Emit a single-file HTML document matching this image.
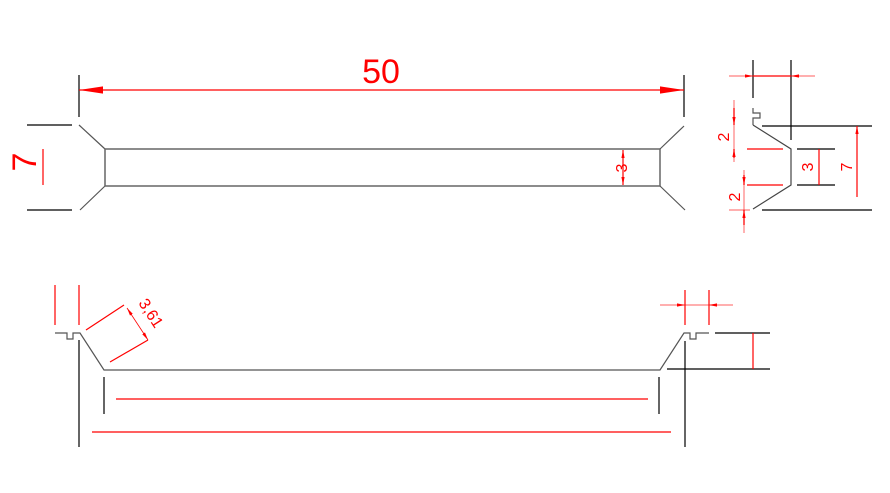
<!DOCTYPE html>
<html><head><meta charset="utf-8"><style>
html,body{margin:0;padding:0;background:#fff;width:890px;height:493px;overflow:hidden}
svg{display:block}
text{font-family:"Liberation Sans",sans-serif;fill:#f00}
</style></head><body>
<svg width="890" height="493" viewBox="0 0 890 493">
<defs>
<marker id="a" viewBox="0 0 10 10" refX="10" refY="5" markerWidth="8" markerHeight="8" orient="auto-start-reverse" markerUnits="userSpaceOnUse"><path d="M0,3 L10,5 L0,7 z" fill="#f00"/></marker>
<marker id="b" viewBox="0 0 10 10" refX="10" refY="5" markerWidth="24" markerHeight="24" orient="auto-start-reverse" markerUnits="userSpaceOnUse"><path d="M0,3.5 L10,5 L0,6.5 z" fill="#f00"/></marker>
</defs>
<g stroke="#000" stroke-width="1.2" fill="none">
<line x1="79" y1="75" x2="79" y2="117"/>
<line x1="684" y1="75" x2="684" y2="117"/>
<line x1="27" y1="125" x2="72" y2="125"/>
<line x1="27" y1="210" x2="72" y2="210"/>
<line x1="79" y1="125" x2="105" y2="149" stroke="#555"/>
<line x1="105" y1="186" x2="80" y2="210" stroke="#555"/>
<rect x="105" y="149" width="555" height="37" stroke="#666" stroke-width="1.5"/>
<line x1="660" y1="149" x2="684" y2="126" stroke="#555"/>
<line x1="660" y1="186" x2="685" y2="210" stroke="#555"/>
<line x1="753" y1="60" x2="753" y2="98"/>
<line x1="791" y1="60" x2="791" y2="140"/>
<polyline points="753,108 753,113 760,113 760,118 753,118 753,125" stroke="#555"/>
<polyline points="753,125 791,149 791,185 753,209" stroke="#444"/>
<line x1="762" y1="126" x2="872" y2="126"/>
<line x1="762" y1="210" x2="872" y2="210"/>
<line x1="797" y1="149" x2="835" y2="149"/>
<line x1="797" y1="185" x2="835" y2="185"/>
<polyline points="55,333 67,333 67,339 73,339 73,333 80,333 104,370 660,370 684,333 690,333 690,339 696,339 696,333 709,333" stroke="#555"/>
<line x1="79" y1="340" x2="79" y2="447"/>
<line x1="104" y1="377" x2="104" y2="414"/>
<line x1="659" y1="377" x2="659" y2="414"/>
<line x1="685" y1="341" x2="685" y2="447"/>
<line x1="715" y1="333" x2="770" y2="333"/>
<line x1="667" y1="369" x2="770" y2="369"/>
</g>
<g stroke="#f00" stroke-width="1.2" fill="none">
<line x1="79" y1="90" x2="684" y2="90" marker-start="url(#b)" marker-end="url(#b)"/>
<line x1="43" y1="149" x2="43" y2="185"/>
<line x1="623" y1="150" x2="623" y2="185" marker-start="url(#a)" marker-end="url(#a)"/>
<line x1="729" y1="76" x2="753" y2="76" marker-end="url(#a)" stroke-opacity=".5"/>
<line x1="753" y1="76" x2="791" y2="76"/>
<line x1="815" y1="76" x2="791" y2="76" marker-end="url(#a)" stroke-opacity=".5"/>
<line x1="747" y1="149" x2="783" y2="149"/>
<line x1="747" y1="185" x2="783" y2="185"/>
<line x1="819" y1="149" x2="819" y2="185"/>
<line x1="857" y1="197" x2="857" y2="126" marker-end="url(#a)"/>
<line x1="734" y1="100" x2="734" y2="162" stroke-opacity=".5"/>
<line x1="734" y1="108" x2="734" y2="125" marker-end="url(#a)"/>
<line x1="734" y1="158" x2="734" y2="149" marker-end="url(#a)"/>
<line x1="744" y1="170" x2="744" y2="233" stroke-opacity=".5"/>
<line x1="744" y1="175" x2="744" y2="185" marker-end="url(#a)"/>
<line x1="744" y1="225" x2="744" y2="210" marker-end="url(#a)"/>
<line x1="729" y1="210" x2="750" y2="210" stroke-opacity=".5"/>
<line x1="55" y1="285" x2="55" y2="325"/>
<line x1="79" y1="285" x2="79" y2="325"/>
<line x1="86" y1="330" x2="124" y2="305"/>
<line x1="110" y1="362" x2="148" y2="340"/>
<line x1="127" y1="308" x2="148" y2="340" stroke-width="0.8" marker-start="url(#a)" marker-end="url(#a)"/>
<line x1="116" y1="399" x2="648" y2="399"/>
<line x1="92" y1="432" x2="671" y2="432"/>
<line x1="685" y1="290" x2="685" y2="325"/>
<line x1="709" y1="290" x2="709" y2="325"/>
<line x1="660" y1="305" x2="685" y2="305" marker-end="url(#a)" stroke-opacity=".5"/>
<line x1="733" y1="305" x2="709" y2="305" marker-end="url(#a)" stroke-opacity=".5"/>
<line x1="685" y1="305" x2="709" y2="305" stroke-opacity=".5"/>
<line x1="753" y1="333" x2="753" y2="369"/>
</g>
<text x="381" y="83" font-size="34" text-anchor="middle">50</text>
<text transform="translate(36,162) rotate(-90)" font-size="34" text-anchor="middle">7</text>
<text transform="translate(627,168) rotate(-90)" font-size="16" text-anchor="middle">3</text>
<text transform="translate(813,167) rotate(-90)" font-size="16" text-anchor="middle">3</text>
<text transform="translate(852,167) rotate(-90)" font-size="16" text-anchor="middle">7</text>
<text transform="translate(729,137) rotate(-90)" font-size="16" text-anchor="middle">2</text>
<text transform="translate(740,197) rotate(-90)" font-size="16" text-anchor="middle">2</text>
<text transform="translate(138,303) rotate(57)" font-size="16">3,61</text>
</svg>
</body></html>
